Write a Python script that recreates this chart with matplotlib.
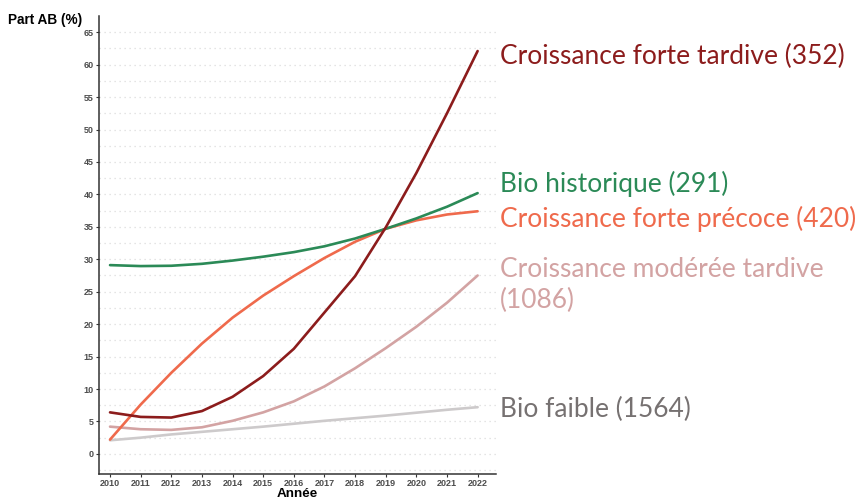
import numpy as np
import matplotlib
matplotlib.use('Agg')
from matplotlib import pyplot as plt

# yearly values (share of organic farming, %)
years = list(range(2010, 2023))
forte_tardive = [6.4, 5.7, 5.6, 6.6, 8.8, 12.0, 16.2, 21.8, 27.4, 34.9, 43.3, 52.5, 62.1]
historique = [29.1, 28.95, 29.0, 29.3, 29.8, 30.4, 31.1, 32.0, 33.2, 34.7, 36.3, 38.1, 40.2]
forte_precoce = [2.2, 7.6, 12.5, 17.0, 21.0, 24.4, 27.4, 30.2, 32.7, 34.7, 36.0, 36.9, 37.4]
moderee_tardive = [4.2, 3.8, 3.7, 4.1, 5.1, 6.4, 8.1, 10.4, 13.2, 16.3, 19.6, 23.3, 27.5]
faible = [2.1, 2.5, 3.0, 3.4, 3.8, 4.2, 4.65, 5.1, 5.5, 5.9, 6.35, 6.8, 7.2]

series = [
    (faible, '#cdcacb', 'Bio faible (1564)', 409),
    (moderee_tardive, '#d3a3a3', 'Croissance modérée tardive\n(1086)', 285),
    (forte_precoce, '#ef6a4c', 'Croissance forte précoce (420)', 219),
    (historique, '#2b8a57', 'Bio historique (291)', 184),
    (forte_tardive, '#8c1c1c', 'Croissance forte tardive (352)', 56),
]
label_colors = {'Bio faible (1564)': '#767171'}

W, H = 865, 498
fig = plt.figure(figsize=(W / 100, H / 100), dpi=100)
ax = fig.add_axes([99 / W, 1 - 474 / H, (496 - 99) / W, (474 - 16) / H])

for vals, col, lab, ypix in series:
    ax.plot(years, vals, color=col, lw=1.9, solid_capstyle='round',
            solid_joinstyle='round')
    fig.text(500 / W, 1 - ypix / H, lab, color=label_colors.get(lab, col),
             fontsize=19, family='Lato', va='center', ha='left', linespacing=1.3)

ax.set_xlim(2009.64, 2022.6)
ax.set_ylim(-3.1, 67.5)
ax.set_xticks(years)
ax.set_yticks(np.arange(0, 66, 5))
ax.set_yticks(np.arange(-2.5, 66, 2.5), minor=True)
ax.grid(axis='y', which='both', color='#dcdcdc', ls=(0, (1, 3)), lw=0.9)
ax.set_axisbelow(True)
for s in ['top', 'right']:
    ax.spines[s].set_visible(False)
for s in ['left', 'bottom']:
    ax.spines[s].set_color('#333333')
    ax.spines[s].set_linewidth(1.1)
ax.tick_params(which='major', length=2.5, width=0.8, color='#333333', pad=1.5,
               labelsize=6.5, labelcolor='#4d4d4d')
ax.tick_params(axis='x', pad=1)
ax.tick_params(which='minor', length=0)
for t in ax.get_xticklabels() + ax.get_yticklabels():
    t.set_fontweight('bold')
    t.set_family('Liberation Sans')

fig.text(8 / W, 1 - 20 / H, 'Part AB (%)', fontsize=9.8, fontweight='bold',
         family='Liberation Sans', va='center', ha='left')
fig.text(297 / W, 1 - 487.5 / H, 'Année', fontsize=9.7, fontweight='bold',
         family='Liberation Sans', va='top', ha='center')

fig.savefig('out.png', dpi=100)
